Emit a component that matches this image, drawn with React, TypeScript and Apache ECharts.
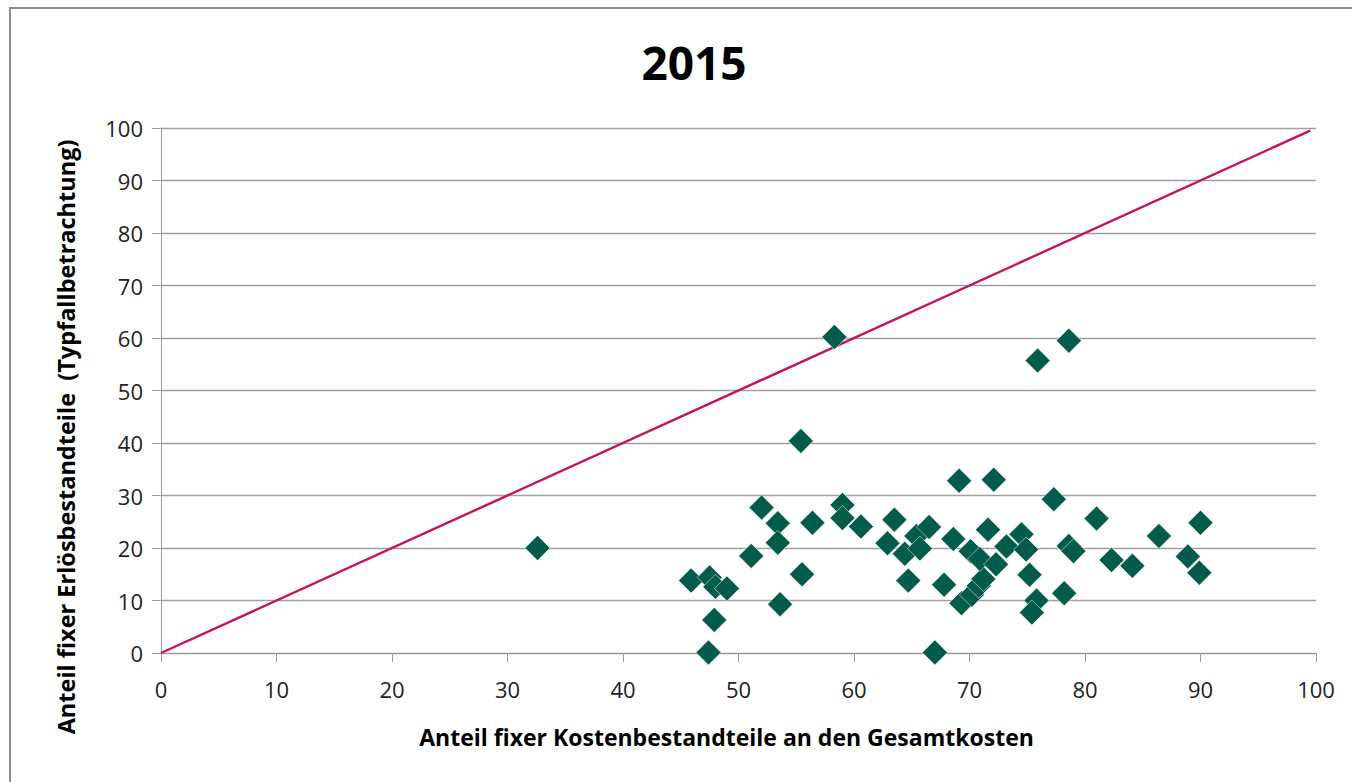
import React, { useEffect, useRef } from "react";
import * as echarts from "echarts";

const chartTitle = "2015";
const xAxisTitle = "Anteil fixer Kostenbestandteile an den Gesamtkosten";
const yAxisTitle = "Anteil fixer Erlösbestandteile  (Typfallbetrachtung)";

const xValues = [
  32.6, 58.3, 55.4, 45.9, 47.5, 48.0, 49.0, 47.9, 47.4, 51.1,
  52.0, 53.4, 53.4, 53.6, 55.5, 56.4, 59.0, 59.0, 60.6, 63.5,
  62.9, 64.4, 64.7, 65.4, 65.7, 66.5, 67.0, 67.8, 68.6, 69.1,
  70.1, 69.3, 70.2, 70.8, 71.2, 70.9, 71.6, 72.1, 72.3, 73.2,
  74.5, 74.9, 75.2, 75.8, 75.4, 75.9, 77.3, 78.2, 78.6, 78.6,
  79.0, 81.0, 82.3, 84.1, 86.4, 88.9, 89.9, 90.0,
];
const yValues = [
  20.0, 60.2, 40.4, 13.8, 14.4, 12.6, 12.3, 6.3, 0.1, 18.5,
  27.7, 24.7, 21.0, 9.3, 15.0, 24.8, 28.2, 25.7, 24.1, 25.4,
  20.9, 18.9, 13.8, 22.3, 19.9, 24.0, 0.1, 13.0, 21.7, 32.8,
  19.4, 9.5, 11.1, 12.8, 14.1, 17.9, 23.5, 33.0, 16.9, 20.3,
  22.6, 19.7, 14.9, 10.0, 7.7, 55.7, 29.3, 11.4, 59.5, 20.4,
  19.4, 25.6, 17.7, 16.6, 22.3, 18.4, 15.3, 24.8,
];
const diagonalLine = [
  [0, 0],
  [99.5, 99.5],
];
const axisTicks = { min: 0, max: 100, interval: 10 };

export default function App() {
  const ref = useRef<HTMLDivElement>(null);
  useEffect(() => {
    if (!ref.current) return;
    const chart = echarts.init(ref.current, null, { renderer: "svg" });
    const font = "'Open Sans', 'Noto Sans', sans-serif";
    chart.setOption({
      animation: false,
      backgroundColor: "#ffffff",
      title: {
        text: chartTitle,
        left: 689,
        top: 34,
        textAlign: "center",
        textStyle: { fontFamily: font, fontSize: 46, fontWeight: "bold", color: "#000" },
      },
      grid: { left: 161, right: 36, top: 128, bottom: 129, containLabel: false },
      graphic: [
        {
          type: "rect",
          shape: { x: 10, y: 8, width: 1400, height: 820 },
          style: { fill: "none", stroke: "#8c8c8c", lineWidth: 2 },
          silent: true,
          z: 100,
        },
        {
          type: "text",
          x: 66,
          y: 437,
          rotation: Math.PI / 2,
          style: {
            text: yAxisTitle,
            fontFamily: font,
            fontSize: 23.5,
            fontWeight: "bold",
            fill: "#000",
            align: "center",
            verticalAlign: "middle",
          },
        },
      ],
      xAxis: {
        type: "value",
        ...axisTicks,
        name: xAxisTitle,
        nameLocation: "middle",
        nameGap: 72,
        nameTextStyle: {
          fontFamily: font,
          fontSize: 23,
          fontWeight: "bold",
          color: "#000",
          padding: [0, 24, 0, 0],
        },
        axisLine: { show: true, lineStyle: { color: "#9a9a9a", width: 1 } },
        axisTick: { show: true, inside: false, length: 9, lineStyle: { color: "#9a9a9a" } },
        axisLabel: { fontFamily: font, fontSize: 22, color: "#222", margin: 25 },
        splitLine: { show: false },
      },
      yAxis: {
        type: "value",
        ...axisTicks,
        axisLine: { show: true, lineStyle: { color: "#9a9a9a", width: 1 } },
        axisTick: { show: true, inside: false, length: 9, lineStyle: { color: "#9a9a9a" } },
        axisLabel: { fontFamily: font, fontSize: 22, color: "#222", margin: 18 },
        splitLine: { show: true, lineStyle: { color: "#a0a0a0", width: 1.3 } },
      },
      series: [
        {
          type: "line",
          data: diagonalLine,
          symbol: "none",
          lineStyle: { color: "#c4135e", width: 2.4 },
          z: 3,
          silent: true,
        },
        {
          type: "scatter",
          data: xValues.map((x, i) => [x, yValues[i]]),
          symbol: "diamond",
          symbolSize: 25,
          itemStyle: { color: "#035c4a", opacity: 1, borderColor: "#ffffff", borderWidth: 0.5 },
          z: 4,
        },
      ],
    });
    return () => chart.dispose();
  }, []);
  return (
    <div
      ref={ref}
      style={{ position: "fixed", left: 0, top: 0, width: 1352, height: 782 }}
    />
  );
}
